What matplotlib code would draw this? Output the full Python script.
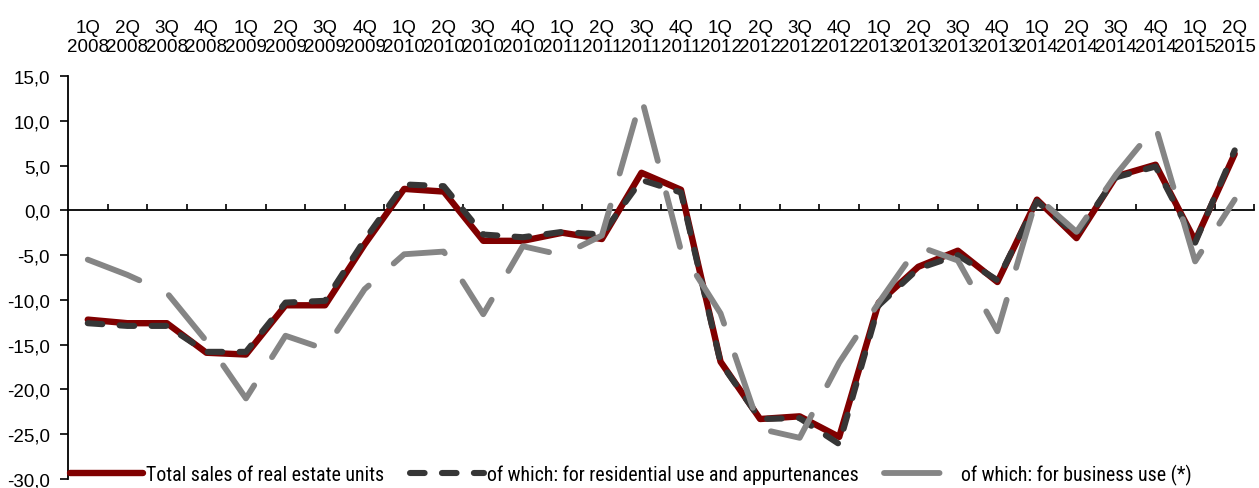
import matplotlib
matplotlib.use("Agg")
import matplotlib.pyplot as plt
from matplotlib.ticker import FixedLocator, FuncFormatter
from matplotlib import font_manager

# quarter labels
quarters = ["1Q\n2008", "2Q\n2008", "3Q\n2008", "4Q\n2008",
            "1Q\n2009", "2Q\n2009", "3Q\n2009", "4Q\n2009",
            "1Q\n2010", "2Q\n2010", "3Q\n2010", "4Q\n2010",
            "1Q\n2011", "2Q\n2011", "3Q\n2011", "4Q\n2011",
            "1Q\n2012", "2Q\n2012", "3Q\n2012", "4Q\n2012",
            "1Q\n2013", "2Q\n2013", "3Q\n2013", "4Q\n2013",
            "1Q\n2014", "2Q\n2014", "3Q\n2014", "4Q\n2014",
            "1Q\n2015", "2Q\n2015"]

total = [-12.2, -12.6, -12.6, -15.9, -16.1, -10.6, -10.6, -3.8, 2.4, 2.1,
         -3.4, -3.4, -2.5, -3.2, 4.2, 2.3, -16.9, -23.3, -23.0, -25.3,
         -10.3, -6.3, -4.5, -8.0, 1.2, -3.1, 3.8, 5.1, -3.4, 6.3]

residential = [-12.6, -12.9, -12.9, -15.8, -15.8, -10.3, -10.1, -3.3, 2.9, 2.7,
               -2.7, -3.0, -2.4, -2.7, 3.4, 2.0, -17.0, -23.3, -23.2, -26.1,
               -10.6, -6.5, -5.0, -7.8, 1.0, -2.7, 3.7, 4.9, -3.6, 6.7]

business = [-5.5, -7.2, -9.2, -14.6, -21.0, -14.0, -15.5, -8.8, -4.9, -4.6,
            -11.6, -4.0, -5.0, -2.8, 12.6, -4.5, -11.5, -24.4, -25.4, -17.0,
            -10.3, -4.0, -5.6, -13.5, 1.5, -2.4, 4.0, 9.4, -5.7, 1.2]

series_names = ["Total sales of real estate units",
                "of which: for residential use and appurtenances",
                "of which: for business use (*)"]

# legend text in the original is a narrow face; use one if there is one
installed = {f.name for f in font_manager.fontManager.ttflist}
leg_font, leg_size = "Liberation Sans", 12.8
for name in ["Liberation Sans Narrow", "Roboto Condensed", "Open Sans Condensed"]:
    if name in installed:
        leg_font, leg_size = name, 14.3
        break

plt.rcParams["font.family"] = ["Liberation Sans", "DejaVu Sans"]
plt.rcParams["lines.scale_dashes"] = False

fig = plt.figure(figsize=(12.59, 4.89), dpi=100)
ax = fig.add_axes([0.054, 0.0184, 0.9424, 0.824])

x = list(range(len(quarters)))
ax.plot(x, total, color="#800000", linewidth=4.6, solid_capstyle="round",
        solid_joinstyle="round", label=series_names[0], zorder=3)
ax.plot(x, residential, color="#363636", linewidth=4.4, linestyle=(0, (10.5, 12.5)),
        dash_capstyle="round", dash_joinstyle="round", label=series_names[1], zorder=4)
ax.plot(x, business, color="#858585", linewidth=4.2, linestyle=(0, (40, 24)),
        dash_capstyle="round", dash_joinstyle="round", label=series_names[2], zorder=5)

ax.set_xlim(-0.5, len(quarters) - 0.5)
ax.set_ylim(-30, 15)

# spines
ax.spines["top"].set_visible(False)
ax.spines["right"].set_visible(False)
ax.spines["bottom"].set_position(("data", 0))
for s in ("left", "bottom"):
    ax.spines[s].set_linewidth(1.3)
    ax.spines[s].set_color("black")

# x: labels on top at category centres, tick marks at boundaries on the zero line
ax.xaxis.set_major_locator(FixedLocator(x))
ax.set_xticklabels(quarters)
ax.xaxis.set_minor_locator(FixedLocator([i + 0.5 for i in x]))
ax.tick_params(axis="x", which="major", bottom=False, top=False,
               labelbottom=False, labeltop=True, labelsize=13.5, pad=12)
ax.tick_params(axis="x", which="minor", bottom=True, top=False, direction="in",
               length=4.5, width=1.2)
for lbl in ax.get_xticklabels():
    lbl.set_linespacing(1.15)

# y ticks
ax.yaxis.set_major_locator(FixedLocator(range(-30, 16, 5)))
ax.yaxis.set_major_formatter(FuncFormatter(lambda v, p: f"{v:.1f}".replace(".", ",")))
ax.tick_params(axis="y", direction="out", length=6, width=1.2, labelsize=13.5, pad=7)

leg = ax.legend(loc="lower left", bbox_to_anchor=(0.0, -0.02), ncol=3, frameon=False,
                handlelength=3.7, handletextpad=0.15, columnspacing=1.3,
                borderaxespad=0, borderpad=0.1,
                prop={"family": [leg_font, "DejaVu Sans"], "size": leg_size})

fig.savefig("out.png", dpi=100)
